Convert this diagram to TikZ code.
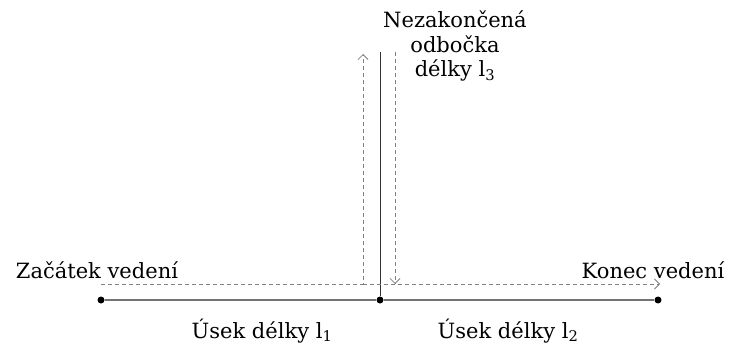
\documentclass[tikz,border=0pt]{standalone}
\usepackage{fontspec}
\setmainfont{DejaVu Serif}
\usetikzlibrary{arrows.meta, positioning}

\begin{document}
\begin{tikzpicture}[x=1pt, y=-1pt,
  lbl/.style={font=\fontsize{21}{24.5}\selectfont, inner sep=0pt},
  vedeni/.style={draw=gray!90!black, line width=1.3pt},
  bod/.style={circle, fill=black, inner sep=0pt, minimum size=7pt},
  tok/.style={draw=gray, dash pattern=on 4pt off 3pt, line width=0.8pt, -{Straight Barb[length=5pt, width=10pt]}}
]
\useasboundingbox (0,0) rectangle (730,345);

% body vedeni
\node[bod] (zac) at (101,300) {};
\node[bod] (uzel) at (380,300) {};
\node[bod] (kon) at (658,300) {};
\coordinate (vrch) at (380,52);

\draw[vedeni] (zac) -- (uzel) -- (kon);
\draw[line width=0.9pt, draw=black!80] (uzel) -- (vrch);

% smery vln
\coordinate (t1) at (101,284);
\coordinate (t2) at (363,284);
\coordinate (t3) at (363,54);
\coordinate (t4) at (395,52);
\coordinate (t5) at (395,284);
\coordinate (t6) at (660,284);

\draw[tok] (t1) -- (t2) -- (t3);
\draw[tok] (t4) -- (t5);
\draw[tok] (t2) -- (t6);

% popisky
\node[lbl, anchor=base] (zacatek) at (97,278) {Začátek vedení};
\node[lbl, anchor=base] (konec) at (653,278) {Konec vedení};
\node[lbl, anchor=base] (usek1) at (262,338) {Úsek délky l\textsubscript{1}};
\node[lbl, anchor=base] (usek2) at (508,338) {Úsek délky l\textsubscript{2}};
\node[lbl, anchor=north, align=center] (odbocka) at (455,11) {Nezakončená\\odbočka\\délky l\textsubscript{3}};

\end{tikzpicture}
\end{document}
